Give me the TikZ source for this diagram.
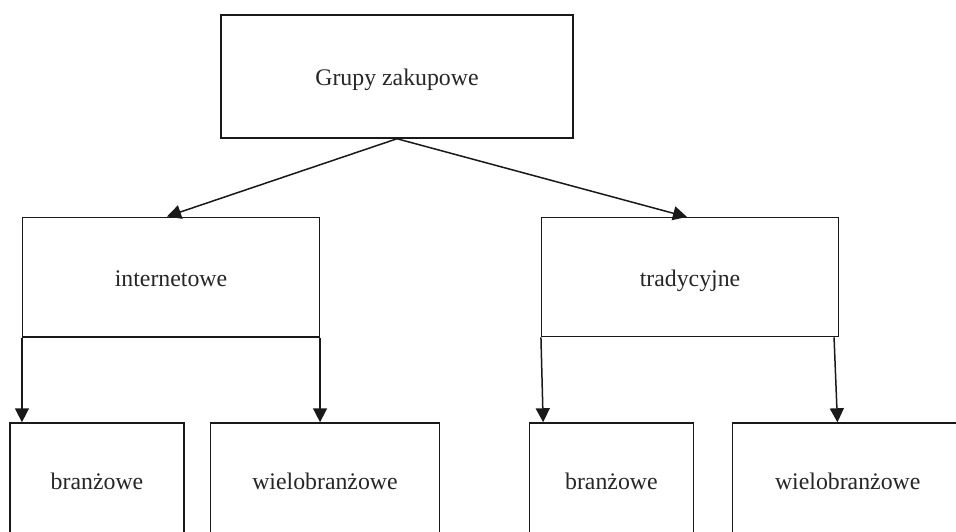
\documentclass[tikz,border=0pt]{standalone}
\usepackage{fontspec}
\setmainfont{Liberation Serif}
\usetikzlibrary{arrows.meta,calc}
\begin{document}
\begin{tikzpicture}[x=1pt,y=-1pt,
  box/.style={draw=black!90, line width=1.5pt, rectangle, inner sep=0pt, anchor=center,
    text height=18pt, text depth=0pt, text=black!85,
    font=\fontsize{23.8}{28}\selectfont},
  conn/.style={draw=black!90, line width=1.5pt, -{Triangle[length=14pt,width=14pt]}}]
\useasboundingbox (0,0) rectangle (956,532);
\clip (0,0) rectangle (956,532);
\fill[white] (0,0) rectangle (956,532);
\node[box, minimum width=352pt, minimum height=123pt] (top) at (397,76.5) {Grupy zakupowe};
\node[box, minimum width=296.6pt, minimum height=119.5pt] (int) at (171,277) {internetowe};
\node[box, minimum width=296.6pt, minimum height=119pt] (trad) at (690,277.2) {tradycyjne};
\node[box, minimum width=174pt, minimum height=114pt] (b1) at (97,480) {branżowe};
\node[box, minimum width=228.6pt, minimum height=114pt] (w1) at (325,480) {wielobranżowe};
\node[box, minimum width=164pt, minimum height=114pt] (b2) at (611.4,480) {branżowe};
\node[box, minimum width=230pt, minimum height=114pt] (w2) at (847.7,480) {wielobranżowe};
\draw[conn] (top.south) -- ([xshift=-4pt]int.north);
\draw[conn] (top.south) -- ([xshift=-3pt]trad.north);
\draw[conn] (int.south west) -- (int.south west |- b1.north);
\draw[conn] (int.south east) -- (int.south east |- w1.north);
\draw[conn] (trad.south west) -- ($(b2.north west)+(14.5,0)$);
\draw[conn] ($(trad.south east)+(-5,0)$) -- ($(w2.north west)+(105.5,0)$);
\end{tikzpicture}
\end{document}
